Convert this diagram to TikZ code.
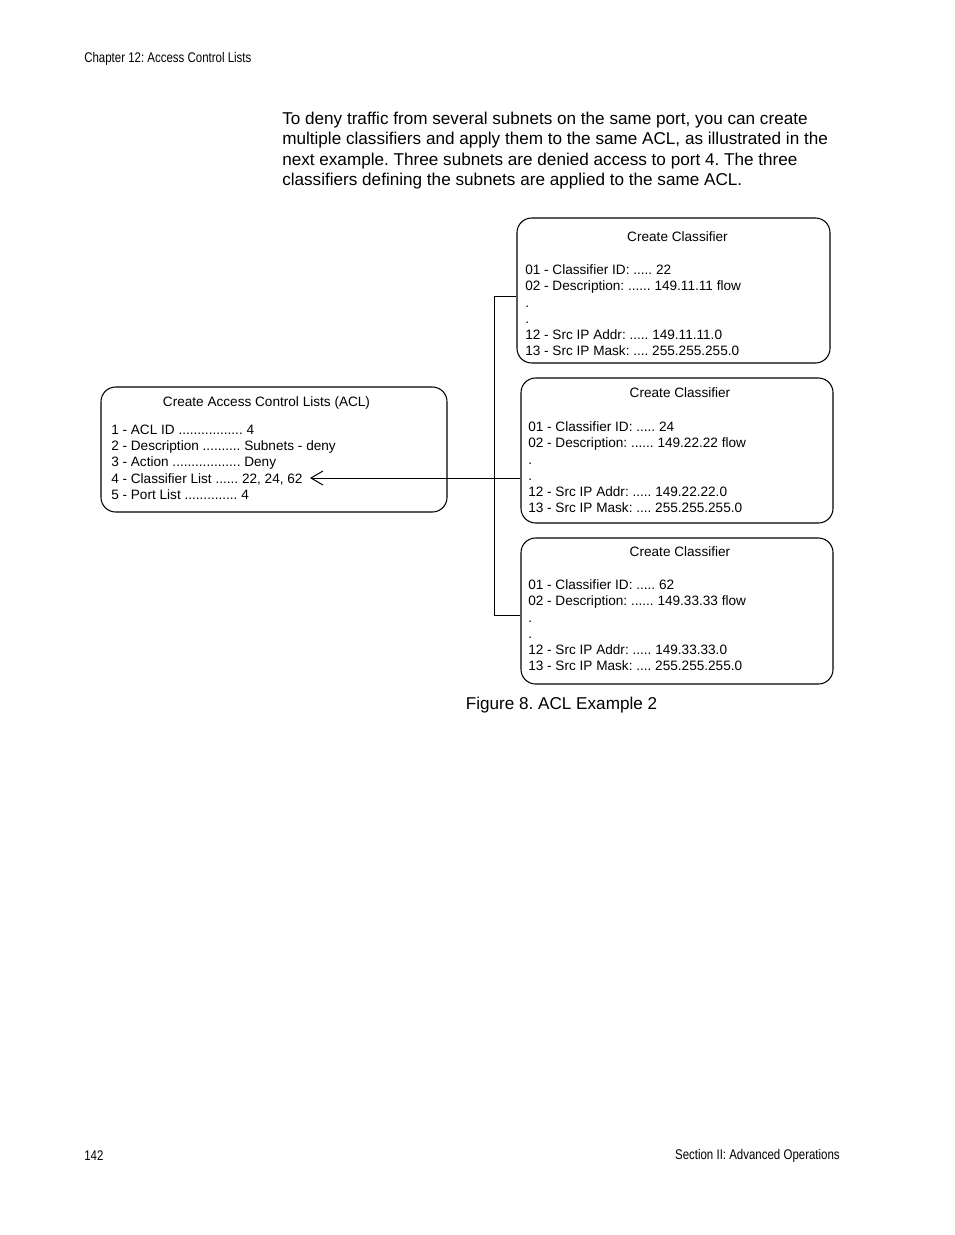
\documentclass[tikz,border=0pt]{standalone}
\usepackage{fontspec}
\setmainfont{Liberation Sans}
\frenchspacing
\usetikzlibrary{arrows.meta}

\begin{document}
\begin{tikzpicture}[x=0.75pt,y=0.75pt,yscale=-1,xscale=1,
  box/.style={draw, rounded corners=11pt, line width=0.8pt, inner sep=0pt},
  boxtext/.style={inner sep=0pt, font=\fontsize{10.2}{12.2}\selectfont, align=left},
  pagetext/.style={inner sep=0pt, font=\fontsize{12.85}{15.2}\selectfont, align=left},
  runhead/.style={inner sep=0pt, font=\fontsize{10.5}{12}\selectfont},
  link/.style={line width=0.75pt}]
%set page size
\useasboundingbox (0,0) rectangle (954,1235);

% Running head and foot
\node [runhead, anchor=west] (head) at (84,58.5) {\scalebox{0.82}[1]{Chapter 12: Access Control Lists}};
\node [runhead, anchor=west] (pageno) at (84,1155.5) {\scalebox{0.82}[1]{142}};
\node [runhead, anchor=east] (foot) at (840,1155.5) {\scalebox{0.82}[1]{Section II: Advanced Operations}};

% Text Node
\node [pagetext, anchor=north west] (intro) at (282,112) {To deny traffic from several subnets on the same port, you can create\\multiple classifiers and apply them to the same ACL, as illustrated in the\\next example. Three subnets are denied access to port 4. The three\\classifiers defining the subnets are applied to the same ACL.};

%Rounded boxes
\node [box, minimum width=259.5pt, minimum height=93.75pt] (acl) at (274,449.5) {};
\node [box, minimum width=234.75pt, minimum height=108.75pt] (cls1) at (673.5,290.5) {};
\node [box, minimum width=234pt, minimum height=108.75pt] (cls2) at (677,450.5) {};
\node [box, minimum width=234pt, minimum height=109.5pt] (cls3) at (677,611) {};

% Text Node
\node [boxtext] (aclTitle) at (266.5,403) {Create Access Control Lists (ACL)};
\node [boxtext, anchor=north west] (aclBody) at (111,424.5) {1 - ACL ID ................. 4\\2 - Description .......... Subnets - deny\\3 - Action .................. Deny\\4 - Classifier List ...... 22, 24, 62\\5 - Port List .............. 4};
% Text Node
\node [boxtext] (cls1Title) at (677.5,237) {Create Classifier};
\node [boxtext, anchor=north west] (cls1Body) at (525,264.5) {01 - Classifier ID: ..... 22\\02 - Description: ...... 149.11.11 flow\\.\\.\\12 - Src IP Addr: ..... 149.11.11.0\\13 - Src IP Mask: .... 255.255.255.0};
% Text Node
\node [boxtext] (cls2Title) at (680,393) {Create Classifier};
\node [boxtext, anchor=north west] (cls2Body) at (528,421.5) {01 - Classifier ID: ..... 24\\02 - Description: ...... 149.22.22 flow\\.\\.\\12 - Src IP Addr: ..... 149.22.22.0\\13 - Src IP Mask: .... 255.255.255.0};
% Text Node
\node [boxtext] (cls3Title) at (680,552) {Create Classifier};
\node [boxtext, anchor=north west] (cls3Body) at (528,579.5) {01 - Classifier ID: ..... 62\\02 - Description: ...... 149.33.33 flow\\.\\.\\12 - Src IP Addr: ..... 149.33.33.0\\13 - Src IP Mask: .... 255.255.255.0};

%Connectors
\coordinate (busTop) at (494,296);
\coordinate (busBot) at (494,615);
\coordinate (tip) at (310,478);
\draw [link] (cls1.west |- busTop) -- (busTop) -- (busBot) -- (cls3.west |- busBot);
\draw [link, -{Straight Barb[length=9pt,width=10.5pt]}] (cls2.west |- tip) -- (tip);

% Caption
\node [pagetext] (caption) at (561.5,705) {Figure 8. ACL Example 2};

\end{tikzpicture}
\end{document}
